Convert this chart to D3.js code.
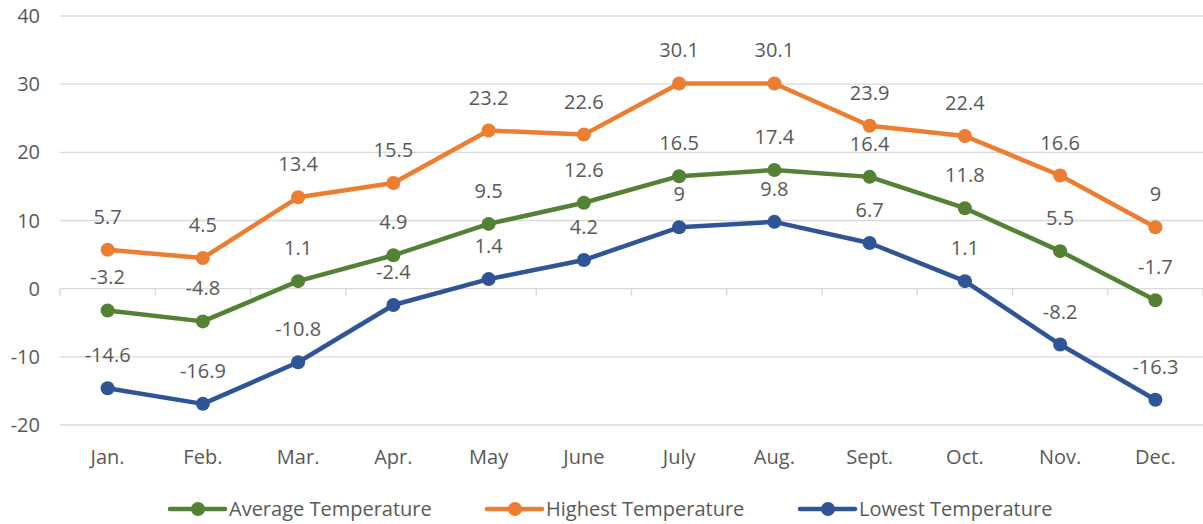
<!DOCTYPE html>
<html>
<head>
<meta charset="utf-8">
<script src="https://cdn.jsdelivr.net/npm/d3@7"></script>
<style>
  body { margin: 0; background: #fff; }
  .chart text { font-family: "Open Sans", "Lato", sans-serif; fill: #595959; }
</style>
</head>
<body>
<div class="chart"></div>
<script>
var months = ["Jan.", "Feb.", "Mar.", "Apr.", "May", "June", "July", "Aug.", "Sept.", "Oct.", "Nov.", "Dec."];
var avgTemp = [-3.2, -4.8, 1.1, 4.9, 9.5, 12.6, 16.5, 17.4, 16.4, 11.8, 5.5, -1.7];
var highTemp = [5.7, 4.5, 13.4, 15.5, 23.2, 22.6, 30.1, 30.1, 23.9, 22.4, 16.6, 9];
var lowTemp = [-14.6, -16.9, -10.8, -2.4, 1.4, 4.2, 9, 9.8, 6.7, 1.1, -8.2, -16.3];
var yTicks = [-20, -10, 0, 10, 20, 30, 40];

var seriesNames = ["Average Temperature", "Highest Temperature", "Lowest Temperature"];
var seriesColors = ["#548235", "#ED7D31", "#2F5597"];
var seriesValues = [avgTemp, highTemp, lowTemp];

var svgWidth = 1203;
var svgHeight = 524;

var margin = { top: 16, right: 0, bottom: 99, left: 60 };
var width = svgWidth - margin.left - margin.right;
var height = svgHeight - margin.top - margin.bottom;

var svg = d3.select(".chart")
    .append("svg")
    .attr("width", svgWidth)
    .attr("height", svgHeight);

var chartGroup = svg.append("g")
    .attr("transform", `translate(${margin.left}, ${margin.top})`);

var xScale = d3.scaleBand()
    .domain(months)
    .range([0, width]);

var yScale = d3.scaleLinear()
    .domain([-20, 40])
    .range([height, 0]);

// gridlines
chartGroup.append("g")
    .selectAll("line")
    .data(yTicks)
    .enter()
    .append("line")
    .attr("x1", 0)
    .attr("x2", width)
    .attr("y1", d => yScale(d))
    .attr("y2", d => yScale(d))
    .attr("stroke", "#d9d9d9")
    .attr("stroke-width", 1.3);

// y tick labels
chartGroup.append("g")
    .selectAll("text")
    .data(yTicks)
    .enter()
    .append("text")
    .attr("x", -20)
    .attr("y", d => yScale(d))
    .attr("dy", "0.35em")
    .attr("text-anchor", "end")
    .style("font-size", "20px")
    .text(d => d);

// category axis on zero line, tick marks at band edges
var bandEdges = months.map(m => xScale(m)).concat([width]);
chartGroup.append("g")
    .selectAll("line")
    .data(bandEdges)
    .enter()
    .append("line")
    .attr("x1", d => d)
    .attr("x2", d => d)
    .attr("y1", yScale(0))
    .attr("y2", yScale(0) + 7)
    .attr("stroke", "#d9d9d9")
    .attr("stroke-width", 1.3);

// month labels
chartGroup.append("g")
    .selectAll("text")
    .data(months)
    .enter()
    .append("text")
    .attr("x", d => xScale(d) + xScale.bandwidth() / 2)
    .attr("y", height + 32)
    .attr("dy", "0.35em")
    .attr("text-anchor", "middle")
    .style("font-size", "20px")
    .text(d => d);

var line = d3.line()
    .x((d, i) => xScale(months[i]) + xScale.bandwidth() / 2)
    .y(d => yScale(d));

seriesValues.forEach(function(values, s) {
    var g = chartGroup.append("g");
    g.append("path")
        .datum(values)
        .attr("d", line)
        .attr("fill", "none")
        .attr("stroke", seriesColors[s])
        .attr("stroke-width", 4.5)
        .attr("stroke-linejoin", "round");

    g.selectAll("circle")
        .data(values)
        .enter()
        .append("circle")
        .attr("cx", (d, i) => xScale(months[i]) + xScale.bandwidth() / 2)
        .attr("cy", d => yScale(d))
        .attr("r", 7)
        .attr("fill", seriesColors[s]);
});

// data labels (drawn after lines)
seriesValues.forEach(function(values, s) {
    chartGroup.append("g")
        .selectAll("text")
        .data(values)
        .enter()
        .append("text")
        .attr("x", (d, i) => xScale(months[i]) + xScale.bandwidth() / 2)
        .attr("y", d => yScale(d) - 33)
        .attr("dy", "0.35em")
        .attr("text-anchor", "middle")
        .style("font-size", "20px")
        .text(d => d);
});

// legend
var legendX = [170, 487, 800];
var legend = svg.append("g")
    .attr("transform", "translate(0, 509)");

seriesNames.forEach(function(name, s) {
    var item = legend.append("g")
        .attr("transform", `translate(${legendX[s]}, 0)`);
    item.append("line")
        .attr("x1", 0)
        .attr("x2", 55)
        .attr("stroke", seriesColors[s])
        .attr("stroke-width", 4.5)
        .attr("stroke-linecap", "round");
    item.append("circle")
        .attr("cx", 28)
        .attr("r", 7)
        .attr("fill", seriesColors[s]);
    item.append("text")
        .attr("x", 59)
        .attr("dy", "0.35em")
        .style("font-size", "20px")
        .text(name);
});
</script>
</body>
</html>
